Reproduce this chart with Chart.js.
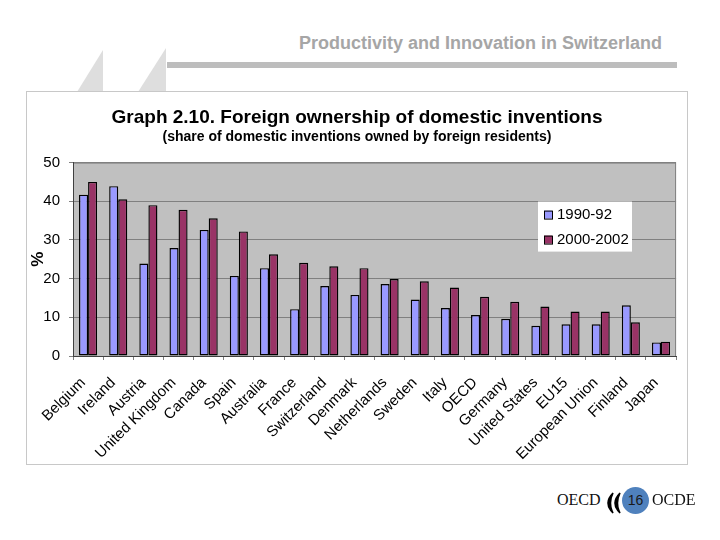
<!DOCTYPE html>
<html>
<head>
<meta charset="utf-8">
<script src="https://cdn.jsdelivr.net/npm/chart.js@4"></script>
<style>
  body { margin: 0; background: #fff; width: 720px; height: 540px; position: relative; overflow: hidden; font-family: "Liberation Sans", Arial, sans-serif; }
  #header { position: absolute; right: 58px; top: 33px; font-family: "Liberation Sans Narrow", "Liberation Sans", sans-serif; font-weight: bold; font-size: 18px; color: #a6a6a6; white-space: nowrap; }
  #bar { position: absolute; left: 167px; top: 62px; width: 510px; height: 6px; background: #bdbdbd; }
  #deco { position: absolute; left: 0; top: 0; }
  #frame { position: absolute; left: 26px; top: 91px; width: 662px; height: 374px; border: 1px solid #c8c8c8; box-sizing: border-box; background: #fff; }
  #chart { position: absolute; left: 26px; top: 91px; }
  #footer { position: absolute; left: 0; top: 0; }
  .oecd { position: absolute; top: 491px; font-family: "Liberation Serif", "DejaVu Serif", serif; font-size: 16px; color: #111; }
  #page { position: absolute; left: 622px; top: 487px; width: 27px; height: 27px; border-radius: 50%; background: #4f81bd; color: #1a1a1a; font-size: 14px; text-align: center; line-height: 27px; }
</style>
</head>
<body>
<svg id="deco" width="720" height="100">
  <polygon points="103,50 103,92 77,92" fill="#dedede"/>
  <polygon points="166,48 166,92 138,92" fill="#dedede"/>
</svg>
<div id="header">Productivity and Innovation in Switzerland</div>
<div id="bar"></div>
<div id="frame"></div>
<canvas id="chart" width="662" height="374"></canvas>
<div class="oecd" style="left:557px">OECD</div>
<svg id="footer" width="720" height="540">
  <path d="M613,493 Q603,503 613,513 Q608,503 613,493 Z" fill="#000" stroke="#000" stroke-width="1.5"/>
  <path d="M620,493 Q610,503 620,513 Q615,503 620,493 Z" fill="#000" stroke="#000" stroke-width="1.5"/>
</svg>
<div id="page">16</div>
<div class="oecd" style="left:652px">OCDE</div>
<script>
// ===== Data =====
const countries = [
  'Belgium', 'Ireland', 'Austria', 'United Kingdom', 'Canada', 'Spain',
  'Australia', 'France', 'Switzerland', 'Denmark', 'Netherlands', 'Sweden',
  'Italy', 'OECD', 'Germany', 'United States', 'EU15', 'European Union',
  'Finland', 'Japan'
];
const share1990 = [41.7, 43.9, 23.9, 27.9, 32.6, 20.7, 22.7, 12.1, 18.1, 15.8,
  18.6, 14.6, 12.4, 10.6, 9.6, 7.8, 8.2, 8.2, 13.1, 3.5];
const share2000 = [45.0, 40.5, 39.0, 37.8, 35.6, 32.2, 26.3, 24.1, 23.2, 22.7,
  19.9, 19.3, 17.7, 15.3, 14.0, 12.8, 11.5, 11.5, 8.7, 3.7];
const seriesNames = ['1990-92', '2000-2002'];
const yTicks = [0, 10, 20, 30, 40, 50];

const FONT = '"Liberation Sans", Arial, sans-serif';

// grey plot background like the Excel original
const plotBg = {
  id: 'plotBg',
  beforeDraw(chart) {
    const { ctx, chartArea: a } = chart;
    ctx.save();
    ctx.fillStyle = '#c0c0c0';
    ctx.fillRect(a.left, a.top, a.right - a.left, a.bottom - a.top);
    ctx.strokeStyle = '#808080';
    ctx.lineWidth = 1;
    ctx.strokeRect(a.left + 0.5, a.top + 0.5, a.right - a.left - 1, a.bottom - a.top);
    ctx.restore();
  }
};

// legend box sitting inside the plot area
const legendBox = {
  id: 'legendBox',
  afterDraw(chart) {
    const { ctx, chartArea: a } = chart;
    const x = a.left + 465, y = a.top + 39;
    ctx.save();
    ctx.fillStyle = '#fff';
    ctx.fillRect(x, y, 94, 50);
    ctx.font = '15px ' + FONT;
    ctx.textBaseline = 'middle';
    chart.data.datasets.forEach((ds, i) => {
      const cy = y + 13 + i * 25;
      ctx.fillStyle = ds.backgroundColor;
      ctx.fillRect(x + 6, cy - 4, 8, 8);
      ctx.strokeStyle = '#000';
      ctx.lineWidth = 1;
      ctx.strokeRect(x + 6.5, cy - 3.5, 8, 8);
      ctx.fillStyle = '#000';
      ctx.fillText(ds.label, x + 19, cy);
    });
    ctx.restore();
  }
};

new Chart(document.getElementById('chart'), {
  type: 'bar',
  data: {
    labels: countries,
    datasets: [
      { label: seriesNames[0], data: share1990, backgroundColor: '#9999ff', borderColor: '#000', borderWidth: 1.4, borderSkipped: false },
      { label: seriesNames[1], data: share2000, backgroundColor: '#993366', borderColor: '#000', borderWidth: 1.4, borderSkipped: false }
    ]
  },
  options: {
    responsive: false,
    animation: false,
    devicePixelRatio: 1,
    categoryPercentage: 0.6,
    barPercentage: 1.0,
    layout: { padding: { left: 11, right: 11, top: 0, bottom: 0 } },
    plugins: {
      legend: { display: false },
      tooltip: { enabled: false },
      title: {
        display: true,
        text: 'Graph 2.10. Foreign ownership of domestic inventions',
        color: '#000',
        font: { family: FONT, size: 19, weight: 'bold' },
        padding: { top: 15, bottom: 0 }
      },
      subtitle: {
        display: true,
        text: '(share of domestic inventions owned by foreign residents)',
        color: '#000',
        font: { family: FONT, size: 14, weight: 'bold' },
        padding: { top: 0, bottom: 17 }
      }
    },
    scales: {
      x: {
        afterFit: (s) => { s.height = 109; },
        grid: { display: true, drawOnChartArea: false, offset: true, tickLength: 4, color: '#808080' },
        border: { color: '#404040' },
        ticks: {
          color: '#000',
          font: { family: FONT, size: 15 },
          minRotation: 45,
          maxRotation: 45,
          autoSkip: false,
          padding: 14,
          labelOffset: -5
        }
      },
      y: {
        min: 0,
        max: 50,
        afterFit: (s) => { s.width = 36; },
        afterBuildTicks: (s) => { s.ticks = yTicks.map((v) => ({ value: v })); },
        grid: { color: '#808080', tickLength: 4 },
        border: { color: '#404040' },
        ticks: { color: '#000', font: { family: FONT, size: 15 }, padding: 9 },
        title: {
          display: true,
          text: '%',
          color: '#000',
          font: { family: FONT, size: 17, weight: 'bold' },
          padding: { top: -9, bottom: 0 }
        }
      }
    }
  },
  plugins: [plotBg, legendBox]
});
</script>
</body>
</html>
